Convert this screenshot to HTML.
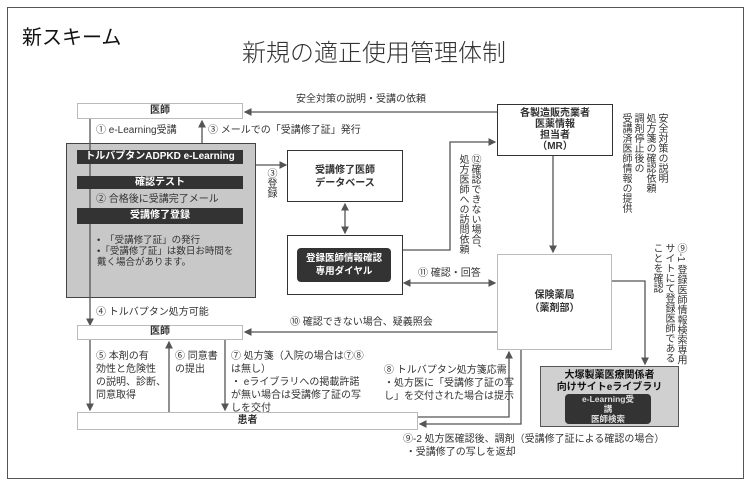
<!DOCTYPE html>
<html><head><meta charset="utf-8"><style>
body{margin:0;width:751px;height:487px;background:#fff;position:relative;overflow:hidden;font-family:"Liberation Sans","Noto Sans CJK JP",sans-serif;color:#333;}
.a{position:absolute;white-space:nowrap;}
.t{font-size:10px;line-height:13px;}
.box{position:absolute;box-sizing:border-box;background:#fff;}
.v{writing-mode:vertical-rl;font-size:10px;line-height:12px;position:absolute;}
.bar{position:absolute;background:#333;color:#fff;font-size:10px;font-weight:bold;text-align:center;line-height:14px;}
</style></head><body>
<div class="box" style="left:7px;top:7px;width:737px;height:472px;border:1px solid #555;background:none"></div>
<div class="a" style="left:22px;top:21px;font-size:20px;color:#111;">新スキーム</div>
<div class="a" style="left:242px;top:33px;font-size:24px;color:#333;font-weight:300;">新規の適正使用管理体制</div>

<svg width="751" height="487" style="position:absolute;left:0;top:0">
<defs><marker id="m" markerWidth="6" markerHeight="6" refX="5" refY="3" orient="auto-start-reverse"><path d="M0,0L6,3L0,6z" fill="#555"/></marker></defs>
<g stroke="#555" stroke-width="1.3" fill="none">
<line x1="497" y1="112" x2="245" y2="112" marker-end="url(#m)"/>
<line x1="90" y1="119" x2="90" y2="325" marker-end="url(#m)"/>
<line x1="202" y1="143" x2="202" y2="121" marker-end="url(#m)"/>
<line x1="256" y1="165" x2="286" y2="165" marker-end="url(#m)"/>
<line x1="345" y1="204" x2="345" y2="233" marker-end="url(#m)" marker-start="url(#m)"/>
<polyline points="402,250 450,250 450,142 495,142" marker-end="url(#m)"/>
<line x1="404" y1="283" x2="495" y2="283" marker-end="url(#m)" marker-start="url(#m)"/>
<line x1="553" y1="156" x2="553" y2="252" marker-end="url(#m)"/>
<line x1="497" y1="332" x2="245" y2="332" marker-end="url(#m)"/>
<polyline points="612,281 645,281 645,364" marker-end="url(#m)"/>
<line x1="90" y1="340" x2="90" y2="410" marker-end="url(#m)"/>
<line x1="169" y1="412" x2="169" y2="342" marker-end="url(#m)"/>
<line x1="225" y1="340" x2="225" y2="410" marker-end="url(#m)"/>
<polyline points="418,417 509,417 509,352" marker-end="url(#m)"/>
<polyline points="521,350 521,424 420,424" marker-end="url(#m)"/>
</g></svg>

<div class="box" style="left:77px;top:103px;width:166px;height:16px;border:1.5px solid #bbb;font-size:10px;font-weight:bold;text-align:center;line-height:13px;">医師</div>
<div class="a t" style="left:296px;top:93px;">安全対策の説明・受講の依頼</div>
<div class="a t" style="left:96px;top:124px;">① e-Learning受講</div>
<div class="a t" style="left:208px;top:124px;">③ メールでの「受講修了証」発行</div>

<div class="box" style="left:66px;top:143px;width:190px;height:155px;border:1px solid #444;background:#c8c8c8;"></div>
<svg width="751" height="487" style="position:absolute;left:0;top:0"><line x1="90" y1="143" x2="90" y2="298" stroke="#555" stroke-width="1.3"/></svg>
<div class="bar" style="left:77px;top:150px;width:166px;height:14px;">トルバプタンADPKD e-Learning</div>
<div class="bar" style="left:77px;top:176px;width:166px;height:13px;">確認テスト</div>
<div class="a t" style="left:96px;top:193px;">② 合格後に受講完了メール</div>
<div class="bar" style="left:77px;top:208px;width:166px;height:16px;line-height:16px;">受講修了登録</div>
<div class="a" style="left:97px;top:235px;font-size:9.5px;line-height:11px;">•　「受講修了証」の発行<br>•「受講修了証」は数日お時間を<br>戴く場合があります。</div>

<div class="v" style="left:264px;top:168px;">③登録</div>
<div class="box" style="left:287px;top:150px;width:116px;height:52px;border:1.5px solid #333;font-size:10px;font-weight:bold;text-align:center;padding-top:13px;line-height:13px;">受講修了医師<br>データベース</div>
<div class="box" style="left:287px;top:235px;width:116px;height:60px;border:1.5px solid #333;"></div>
<div class="box" style="left:297px;top:248px;width:94px;height:34px;background:#333;border-radius:4px;color:#fff;font-size:9.5px;font-weight:bold;text-align:center;line-height:13px;padding-top:4px;">登録医師情報確認<br>専用ダイヤル</div>

<div class="v" style="left:456px;top:154px;height:100px;">⑫確認できない場合、<br>処方医師への訪問依頼</div>
<div class="box" style="left:497px;top:104px;width:116px;height:52px;border:1.5px solid #333;font-size:10px;font-weight:bold;text-align:center;line-height:11px;padding-top:3px;">各製造販売業者<br>医薬情報<br>担当者<br>（MR）</div>
<div class="v" style="left:619px;top:113px;height:110px;">安全対策の説明<br>処方箋の確認依頼<br>調剤停止後の<br>受講済医師情報の提供</div>

<div class="a t" style="left:418px;top:267px;">⑪ 確認・回答</div>
<div class="box" style="left:497px;top:254px;width:115px;height:96px;border:1.5px solid #bbb;font-size:10px;font-weight:bold;text-align:center;line-height:13px;padding-top:34px;">保険薬局<br>（薬剤部）</div>
<div class="v" style="left:650px;top:243px;height:125px;">⑨-1 登録医師情報検索専用<br>サイトにて登録医師である<br>ことを確認</div>

<div class="box" style="left:540px;top:366px;width:139px;height:61px;border:1.5px solid #555;background:#d0d0d0;font-size:10px;font-weight:bold;text-align:center;line-height:12px;padding-top:3px;color:#111;">大塚製薬医療関係者<br>向けサイトeライブラリ</div>
<div class="box" style="left:565px;top:394px;width:86px;height:30px;background:#333;border-radius:4px;color:#ddd;font-size:8.5px;font-weight:bold;text-align:center;line-height:10px;overflow:hidden;">e-Learning受<br>講<br>医師検索</div>

<div class="a t" style="left:290px;top:316px;">⑩ 確認できない場合、疑義照会</div>
<div class="a t" style="left:96px;top:306px;">④ トルバプタン処方可能</div>
<div class="box" style="left:77px;top:325px;width:166px;height:15px;border:1.5px solid #bbb;font-size:10px;font-weight:bold;text-align:center;line-height:12px;">医師</div>
<div class="a t" style="left:96px;top:350px;">⑤ 本剤の有<br>効性と危険性<br>の説明、診断、<br>同意取得</div>
<div class="a t" style="left:175px;top:350px;">⑥ 同意書<br>の提出</div>
<div class="a t" style="left:231px;top:350px;">⑦ 処方箋（入院の場合は⑦⑧<br>は無し）<br>・ eライブラリへの掲載許諾<br>が無い場合は受講修了証の写<br>しを交付</div>
<div class="a t" style="left:384px;top:364px;">⑧ トルバプタン処方箋応需<br>・処方医に「受講修了証の写<br>し」を交付された場合は提示</div>
<div class="box" style="left:77px;top:412px;width:341px;height:18px;border:1.5px solid #bbb;font-size:10px;font-weight:bold;text-align:center;line-height:15px;">患者</div>
<div class="a t" style="left:403px;top:433px;">⑨-2 処方医確認後、調剤（受講修了証による確認の場合）<br>&nbsp;・受講修了の写しを返却</div>
</body></html>
